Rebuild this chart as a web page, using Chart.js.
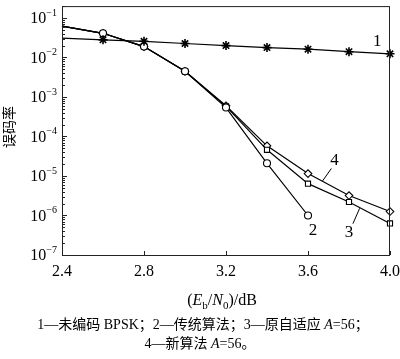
<!DOCTYPE html>
<html><head><meta charset="utf-8">
<script src="https://cdn.jsdelivr.net/npm/chart.js@4/dist/chart.umd.min.js"></script>
<style>html,body{margin:0;padding:0;background:#fff}#wrap{width:400px;height:359px}</style>
</head><body><div id="wrap"><canvas id="c" width="400" height="359"></canvas></div>
<script>
// ---- data ----
const snr = [2.4, 2.6, 2.8, 3.0, 3.2, 3.4, 3.6, 3.8, 4.0];
const ber1 = [0.031, 0.028, 0.0257, 0.0226, 0.0200, 0.0178, 0.0162, 0.0140, 0.0124];
const snr2 = [2.4, 2.6, 2.8, 3.0, 3.2, 3.4, 3.6];
const ber2 = [0.062, 0.041, 0.0189, 0.00447, 0.00054, 0.000021, 0.0000010];
const ber3 = [0.062, 0.041, 0.0189, 0.00447, 0.00058, 0.000046, 0.0000064, 0.0000022, 0.00000063];
const ber4 = [0.062, 0.041, 0.0189, 0.00447, 0.00060, 0.000058, 0.0000115, 0.0000032, 0.00000126];
const xTicks = [2.4, 2.8, 3.2, 3.6, 4.0];
const xTickLabels = ['2.4', '2.8', '3.2', '3.6', '4.0'];
const yTickExps = [-1, -2, -3, -4, -5, -6, -7];
const curveNames = ['1', '2', '3', '4'];
const yTitle = '误码率';
const caption1 = [['1—未编码 BPSK；2—传统算法；3—原自适应 ', false], ['A', true], ['=56；', false]];
const caption2 = [['4—新算法 ', false], ['A', true], ['=56。', false]];

const FONT = "'Liberation Serif','Noto Sans CJK SC',serif";
function pts(xs, ys) { return ys.map((y, i) => ({x: xs[i], y: y})); }
function radii(n, r) { return Array.from({length: n}, (_, i) => i === 0 ? 0 : r); }

function drawRuns(ctx, runs, cx, y, size) {
  let w = 0;
  runs.forEach(r => { ctx.font = (r[1] ? 'italic ' : '') + size + 'px ' + FONT; w += ctx.measureText(r[0]).width; });
  let x = cx - w / 2;
  ctx.textAlign = 'left';
  runs.forEach(r => { ctx.font = (r[1] ? 'italic ' : '') + size + 'px ' + FONT; ctx.fillText(r[0], x, y); x += ctx.measureText(r[0]).width; });
}

const deco = {
  id: 'deco',
  afterDraw(chart) {
    const ctx = chart.ctx, a = chart.chartArea;
    const xs = chart.scales.x, ys = chart.scales.y;
    ctx.save();
    // box
    ctx.strokeStyle = '#222'; ctx.lineWidth = 1;
    ctx.strokeRect(a.left + 0.5, a.top + 0.5, a.right - a.left - 1, a.bottom - a.top);
    // y ticks
    ctx.beginPath();
    for (let e = -7; e <= -1; e++) {
      for (let m = 1; m <= 9; m++) {
        const v = m * Math.pow(10, e);
        if (v > ys.max) continue;
        const py = Math.round(ys.getPixelForValue(v)) + 0.5;
        const len = m === 1 ? 5 : 3;
        ctx.moveTo(a.left, py); ctx.lineTo(a.left + len, py);
      }
    }
    // x ticks
    xTicks.forEach(t => {
      const px = Math.round(xs.getPixelForValue(t)) + 0.5;
      ctx.moveTo(px, a.bottom); ctx.lineTo(px, a.bottom - 4);
    });
    ctx.stroke();
    ctx.fillStyle = '#000';
    // x tick labels
    ctx.font = '16px ' + FONT; ctx.textAlign = 'center'; ctx.textBaseline = 'middle';
    xTicks.forEach((t, i) => ctx.fillText(xTickLabels[i], xs.getPixelForValue(t), a.bottom + 17));
    // y tick labels
    yTickExps.forEach(e => {
      const py = ys.getPixelForValue(Math.pow(10, e));
      ctx.font = '10px ' + FONT;
      const es = '−' + Math.abs(e);
      const ew = ctx.measureText(es).width;
      ctx.textAlign = 'left'; ctx.textBaseline = 'alphabetic';
      const right = a.left - 5;
      ctx.fillText(es, right - ew, py - 2);
      ctx.font = '16px ' + FONT;
      ctx.textAlign = 'right'; ctx.textBaseline = 'middle';
      ctx.fillText('10', right - ew, py + 1);
    });
    // y title
    ctx.save();
    ctx.translate(9, 127); ctx.rotate(-Math.PI / 2);
    ctx.font = "14px 'Noto Sans CJK SC',serif"; ctx.textAlign = 'center'; ctx.textBaseline = 'middle';
    ctx.fillText(yTitle, 0, 0);
    ctx.restore();
    // x title (Eb/N0)/dB
    ctx.textBaseline = 'alphabetic';
    const parts = [['(', '', 16, 0], ['E', 'italic ', 16, 0], ['b', '', 11, 4], ['/', '', 16, 0], ['N', 'italic ', 16, 0], ['0', '', 11, 4], [')/dB', '', 16, 0]];
    let tw = 0;
    parts.forEach(p => { ctx.font = p[1] + p[2] + 'px ' + FONT; tw += ctx.measureText(p[0]).width; });
    let px0 = 222 - tw / 2;
    ctx.textAlign = 'left';
    parts.forEach(p => { ctx.font = p[1] + p[2] + 'px ' + FONT; ctx.fillText(p[0], px0, 305 + p[3]); px0 += ctx.measureText(p[0]).width; });
    // captions
    ctx.textBaseline = 'middle';
    drawRuns(ctx, caption1, 203, 325, 14);
    drawRuns(ctx, caption2, 200, 344, 14);
    // curve labels (data coordinates)
    ctx.font = '17px ' + FONT; ctx.textAlign = 'center'; ctx.textBaseline = 'middle';
    const lab = [[3.938, 0.0257], [3.624, 4.2e-7], [3.80, 3.8e-7], [3.729, 2.4e-5]];
    lab.forEach((l, i) => ctx.fillText(curveNames[i], xs.getPixelForValue(l[0]), ys.getPixelForValue(l[1])));
    // leader lines
    ctx.lineWidth = 1; ctx.strokeStyle = '#000';
    ctx.beginPath();
    ctx.moveTo(xs.getPixelForValue(3.714), ys.getPixelForValue(1.55e-5));
    ctx.lineTo(xs.getPixelForValue(3.671), ys.getPixelForValue(7.5e-6));
    ctx.moveTo(xs.getPixelForValue(3.819), ys.getPixelForValue(6.2e-7));
    ctx.lineTo(xs.getPixelForValue(3.852), ys.getPixelForValue(1.52e-6));
    ctx.stroke();
    ctx.restore();
  }
};

const common = {borderColor: '#000', borderWidth: 1.2, pointBorderColor: '#000', pointBackgroundColor: '#fff', pointBorderWidth: 1.1, clip: 10, tension: 0};
new Chart(document.getElementById('c'), {
  type: 'line',
  data: {
    datasets: [
      Object.assign({}, common, {label: curveNames[0], data: pts(snr, ber1), pointStyle: 'star', pointRadius: radii(snr.length, 4.5), pointBorderWidth: 1.6}),
      Object.assign({}, common, {label: curveNames[1], data: pts(snr2, ber2), pointStyle: 'circle', pointRadius: radii(snr2.length, 3.5)}),
      Object.assign({}, common, {label: curveNames[2], data: pts(snr, ber3), pointStyle: 'rect', pointRadius: radii(snr.length, 3.6)}),
      Object.assign({}, common, {label: curveNames[3], data: pts(snr, ber4), pointStyle: 'rectRot', pointRadius: radii(snr.length, 3.8)})
    ]
  },
  options: {
    responsive: false, animation: false, maintainAspectRatio: false,
    layout: {padding: {left: 54, right: 10, top: 1, bottom: 96}},
    plugins: {legend: {display: false}, tooltip: {enabled: false}},
    scales: {
      x: {type: 'linear', min: 2.4, max: 4.0, ticks: {display: false}, grid: {display: false}, border: {display: false}},
      y: {type: 'logarithmic', min: 1e-7, max: 0.2, ticks: {display: false}, grid: {display: false}, border: {display: false}}
    }
  },
  plugins: [deco]
});
</script></body></html>
